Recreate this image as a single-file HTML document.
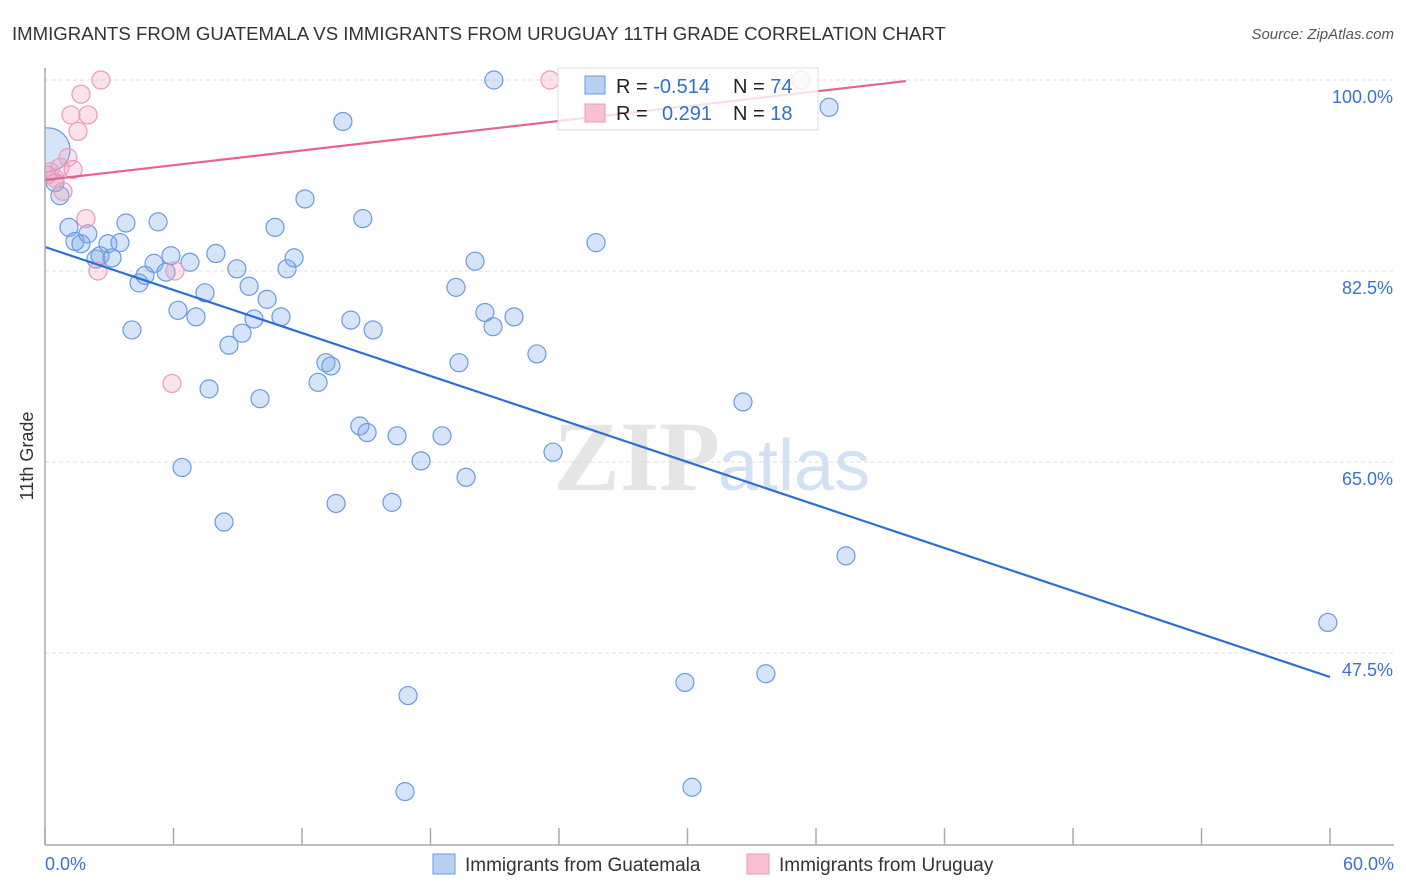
<!DOCTYPE html>
<html><head><meta charset="utf-8"><style>
body{margin:0;background:#fff;font-family:"Liberation Sans",sans-serif;}
#wrap{position:relative;width:1406px;height:892px;overflow:hidden;}
</style></head><body>
<div id="wrap">
<svg id="svg" width="1406" height="892" xmlns="http://www.w3.org/2000/svg">
<defs><clipPath id="plotclip"><rect x="45" y="60" width="1360" height="786"/></clipPath></defs>
<text x="12" y="40" font-size="18.6" fill="#333">IMMIGRANTS FROM GUATEMALA VS IMMIGRANTS FROM URUGUAY 11TH GRADE CORRELATION CHART</text>
<text x="1394" y="39" font-size="15" fill="#555" font-style="italic" text-anchor="end">Source: ZipAtlas.com</text>
<text x="720" y="490" font-size="100" font-family="Liberation Serif" fill="#ccc" opacity="0.5" text-anchor="end" font-weight="bold">ZIP</text>
<text x="718" y="490" font-size="72" fill="#a9c4ea" opacity="0.5">atlas</text>
<text transform="translate(33,456) rotate(-90)" font-size="18" fill="#333" text-anchor="middle">11th Grade</text>
<g id="grid"></g><g id="pts" clip-path="url(#plotclip)"></g><g id="lines"></g>
<line x1="45" y1="68" x2="45" y2="845" stroke="#aaa" stroke-width="1.5"/>
<line x1="45" y1="845" x2="1394" y2="845" stroke="#aaa" stroke-width="1.5"/>
<text x="45" y="870" font-size="18" fill="#3a72d4">0.0%</text>
<text x="1394" y="870" font-size="18" fill="#3a72d4" text-anchor="end">60.0%</text>
<g>
<rect x="558" y="68" width="260" height="62" fill="#fff" fill-opacity="0.8" stroke="#ddd"/>
<rect x="585" y="76" width="20" height="18" fill="#b9d0f3" stroke="#6a9be0"/>
<rect x="585" y="104" width="20" height="18" fill="#f8c0d1" stroke="#eb9ab5"/>
<text x="616" y="93" font-size="20" fill="#222">R = <tspan fill="#2f6fd6">-0.514</tspan></text>
<text x="733" y="93" font-size="20" fill="#222">N = <tspan fill="#2f6fd6">74</tspan></text>
<text x="616" y="120" font-size="20" fill="#222">R = <tspan fill="#2f6fd6" x="662">0.291</tspan></text>
<text x="733" y="120" font-size="20" fill="#222">N = <tspan fill="#2f6fd6">18</tspan></text>
</g>
<g>
<rect x="433" y="854" width="22" height="20" fill="#b9d0f3" stroke="#6a9be0"/>
<text x="465" y="871" font-size="19" fill="#333">Immigrants from Guatemala</text>
<rect x="747" y="854" width="22" height="20" fill="#f8c0d1" stroke="#eb9ab5"/>
<text x="779" y="871" font-size="19" fill="#333">Immigrants from Uruguay</text>
</g>
</svg>
</div>
<script>
const yTicks=[100,82.5,65,47.5];
const yTickLabels=["100.0%","82.5%","65.0%","47.5%"];
const xTicks=[0,6,12,18,24,30,36,42,48,54,60];
const guatX=[0.14,0.47,0.70,1.12,1.40,1.68,2.0,2.38,2.57,2.94,3.13,3.50,3.78,4.39,4.67,4.06,5.09,5.28,5.65,5.88,6.21,6.40,6.77,7.05,7.47,7.66,7.98,8.36,8.59,8.96,9.20,9.53,9.76,10.04,10.37,10.74,11.02,11.30,11.63,12.14,12.75,13.12,13.35,13.59,13.91,14.28,14.70,14.84,15.04,15.32,16.2,16.44,16.81,16.95,17.56,18.54,19.19,19.33,19.66,20.08,20.54,20.92,20.96,21.9,22.97,23.72,25.73,29.88,30.21,32.59,33.66,36.61,37.40,59.9];
const guatY=[93.6,90.6,89.4,86.5,85.2,85.0,85.9,83.6,83.9,85.0,83.7,85.1,86.9,81.4,82.1,77.1,83.2,87.0,82.4,83.9,78.9,64.5,83.3,78.3,80.5,71.7,84.1,59.5,75.7,82.7,76.8,81.1,78.1,70.8,79.9,86.5,78.3,82.7,83.7,89.1,72.3,74.1,73.8,61.2,96.2,78.0,68.3,87.3,67.7,77.1,61.3,67.4,34.8,43.6,65.1,67.4,81.0,74.1,63.6,83.4,78.7,77.4,100,78.3,74.9,65.9,85.1,44.8,35.2,70.5,45.6,97.5,56.4,50.3];
const urugX=[2.61,1.68,1.21,2.01,1.54,1.07,0.70,1.31,0.23,0.47,0.84,1.91,2.47,6.07,5.93,23.58,35.3,0.1];
const urugY=[100,98.7,96.8,96.8,95.3,92.9,92.0,91.8,91.6,91.0,89.8,87.3,82.5,82.5,72.2,100,100,91.3];
const guatTrend=[[0,84.7],[60,45.3]];
const urugTrend=[[0,90.84],[40.2,99.9]];
const NS="http://www.w3.org/2000/svg";
const X=v=>45+v*(1285/60);
const Y=v=>80+(100-v)*(191/17.5);
function mk(t,a,p){const e=document.createElementNS(NS,t);for(const k in a)e.setAttribute(k,a[k]);p.appendChild(e);return e;}
const grid=document.getElementById('grid');
yTicks.forEach((v,i)=>{
 const l=mk('line',{x1:45,x2:1394,y1:Y(v),y2:Y(v),stroke:'#ddd','stroke-dasharray':'4,3'},grid);
 
 
 const t=mk('text',{x:1393,y:Y(v)+23,'font-size':18,fill:'#3a72d4','text-anchor':'end'},grid);
 t.textContent=yTickLabels[i];
 
 
});
xTicks.forEach(v=>{
 const l=mk('line',{x1:X(v),x2:X(v),y1:828,y2:845,stroke:'#aaa','stroke-width':1.5},grid);
 
 
});
const pts=document.getElementById('pts');
guatX.forEach((x,i)=>{
 const c=mk('circle',{cx:X(x),cy:Y(guatY[i]),r:i===0?22:9,fill:'rgba(120,165,235,0.3)',stroke:'#6a9be0','stroke-width':1.2},pts);
 
 
});
urugX.forEach((x,i)=>{
 const c=mk('circle',{cx:X(x),cy:Y(urugY[i]),r:9,fill:'rgba(245,160,190,0.3)',stroke:'#eb9ab5','stroke-width':1.2},pts);
 
 
});
const lines=document.getElementById('lines');
const l1=mk('line',{x1:X(guatTrend[0][0]),y1:Y(guatTrend[0][1]),x2:X(guatTrend[1][0]),y2:Y(guatTrend[1][1]),stroke:'#2a6fd6','stroke-width':2.2},lines);


const l2=mk('line',{x1:X(urugTrend[0][0]),y1:Y(urugTrend[0][1]),x2:X(urugTrend[1][0]),y2:Y(urugTrend[1][1]),stroke:'#e8628c','stroke-width':2.2},lines);


</script>
</body></html>
